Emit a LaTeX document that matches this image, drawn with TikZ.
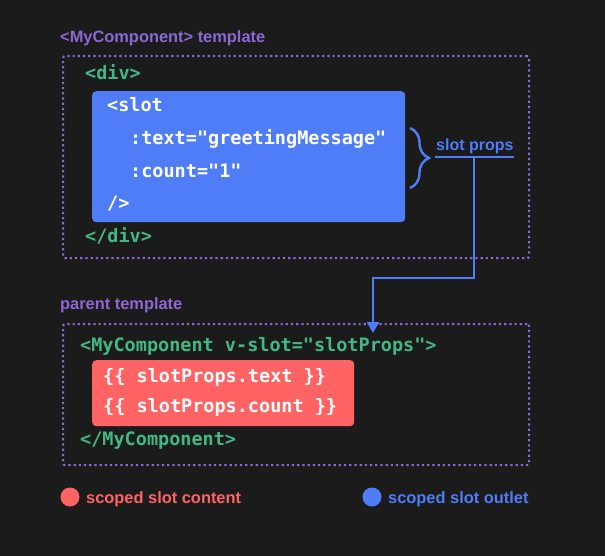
\documentclass[tikz,border=0pt]{standalone}
\usepackage{fontspec}
\setmainfont{Liberation Sans}
\newfontfamily\codefont{DejaVu Sans Mono}
\usetikzlibrary{arrows.meta,decorations.pathreplacing}
\definecolor{bg}{HTML}{1B1B1B}
\definecolor{tplpurple}{HTML}{8B68D5}
\definecolor{codegreen}{HTML}{42B883}
\definecolor{outlet}{HTML}{4F7DF7}
\definecolor{content}{HTML}{FF6363}

\begin{document}
\begin{tikzpicture}[x=1pt,y=-1pt,
     frame/.style={draw=tplpurple,line width=2.2pt,dash pattern=on 2.2pt off 3pt,
       rounded corners=2pt,inner sep=0pt,anchor=north west},
     block/.style={rounded corners=4pt,inner sep=0pt,anchor=north west},
     code/.style={font=\codefont\bfseries\fontsize{18.5}{20}\selectfont,
       anchor=base west,inner sep=0pt},
     lab/.style={font=\bfseries\fontsize{16.4}{18}\selectfont,anchor=base west,
       inner sep=0pt},
     dot/.style={circle,inner sep=0pt,minimum size=19pt},
     wire/.style={draw=outlet,line width=2.6pt}]
    \fill[bg] (0,0) rectangle (605,556);
    \useasboundingbox (0,0) rectangle (605,556);
    % child component template
    \node[lab,text=tplpurple] (childlab) at (60,43) {<MyComponent> template};
    \node[frame,minimum width=466pt,minimum height=202pt] (childtpl) at (62,55) {};
    \node[code,text=codegreen] (divopen) at (85,80) {<div>};
    \node[block,fill=outlet,minimum width=313pt,minimum height=131pt] (slotbox) at (92,91) {};
    \node[code,text=white] (slotopen) at (107,112) {<slot};
    \node[code,text=white] (proptext) at (130,145) {:text="greetingMessage"};
    \node[code,text=white] (propcount) at (130,178) {:count="1"};
    \node[code,text=white] (slotclose) at (107,210) {/>};
    \node[code,text=codegreen] (divclose) at (85,243) {</div>};
    \draw[outlet,line width=2.4pt,decorate,decoration={brace,amplitude=19pt}]
      (410,128) -- (410,188);
    \node[lab,text=outlet,font=\bfseries\fontsize{16}{18}\selectfont] (props) at (436,151) {slot props};
    \coordinate (tap) at (474,157);
    \draw[wire] (tap -| 435,0) -- (tap -| 514,0);
    % parent template
    \node[lab,text=tplpurple] (parentlab) at (60,309) {parent template};
    \node[frame,minimum width=466pt,minimum height=141pt] (parenttpl) at (62,323) {};
    \node[code,text=codegreen] (compopen) at (80,351) {<MyComponent v-slot="slotProps">};
    \node[block,fill=content,minimum width=262pt,minimum height=66pt] (contentbox) at (92,360) {};
    \node[code,text=white] (usetext) at (103,382) {\{\{ slotProps.text \}\}};
    \node[code,text=white] (usecount) at (103,412) {\{\{ slotProps.count \}\}};
    \node[code,text=codegreen] (compclose) at (80,445) {</MyComponent>};
    \coordinate (drop) at (373,333);
    \draw[wire,-{Triangle[length=11pt,width=12pt]}] (tap) -- ++(0,121) -| (drop);
    % legend
    \node[dot,fill=content] (contentdot) at (70,497) {};
    \node[lab,text=content] (contentlab) at (86,503) {scoped slot content};
    \node[dot,fill=outlet] (outletdot) at (372,497) {};
    \node[lab,text=outlet] (outletlab) at (388,503) {scoped slot outlet};
  \end{tikzpicture}
\end{document}
